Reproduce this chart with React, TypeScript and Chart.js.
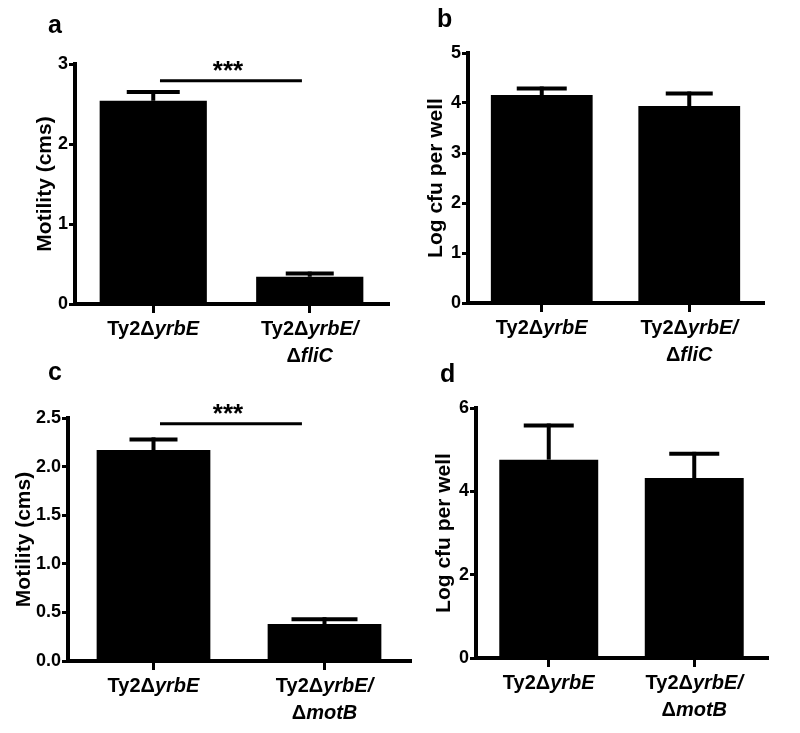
import React, { useEffect, useRef } from 'react';
import { Chart, registerables } from 'chart.js';

Chart.register(...registerables);

const FONT = '"Liberation Sans", Arial, Helvetica, sans-serif';

// Category labels: "*" toggles italic, "|" breaks the line
const categoriesFliC = ['Ty2Δ*yrbE*', 'Ty2Δ*yrbE/*|Δ*fliC*'];
const categoriesMotB = ['Ty2Δ*yrbE*', 'Ty2Δ*yrbE/*|Δ*motB*'];

// Panel a: motility, ΔfliC
const motilityFliC = [2.54, 0.34];
const motilityFliCErr = [0.11, 0.04];
// Panel b: log cfu, ΔfliC
const cfuFliC = [4.16, 3.94];
const cfuFliCErr = [0.13, 0.25];
// Panel c: motility, ΔmotB
const motilityMotB = [2.17, 0.38];
const motilityMotBErr = [0.11, 0.05];
// Panel d: log cfu, ΔmotB
const cfuMotB = [4.76, 4.32];
const cfuMotBErr = [0.82, 0.58];

// Axis ranges / tick steps
const yMaxA = 3, yStepA = 1;
const yMaxB = 5, yStepB = 1;
const yMaxC = 2.5, yStepC = 0.5;
const yMaxD = 6, yStepD = 2;

// Significance levels
const sigLevelA = 2.79;
const sigLevelC = 2.44;
const sigText = '***';

type Sig = { level: number; text: string; from: number; to: number };
type PanelCfg = {
  letter: string; letterX: number; letterY: number;
  left: number; top: number; width: number; height: number;
  area: { left: number; top: number; right: number; bottom: number };
  titleCenter: number; yTitle: string;
  yMax: number; yStep: number; decimals: number;
  categories: string[]; values: number[]; errors: number[];
  barPct: number; capW: number[];
  sig?: Sig;
};

const plain = (s: string) => s.replace(/\*/g, '').replace(/\|/g, ' ');
const parseLines = (s: string) =>
  s.split('|').map((line) => {
    const parts: { t: string; i: boolean }[] = [];
    line.split('*').forEach((t, k) => { if (t) parts.push({ t, i: k % 2 === 1 }); });
    return parts;
  });

const panels: PanelCfg[] = [
  {
    letter: 'a', letterX: 48, letterY: 33,
    left: 0, top: 0, width: 400, height: 378,
    area: { left: 75, top: 64, right: 388, bottom: 304 },
    titleCenter: 45, yTitle: 'Motility (cms)',
    yMax: yMaxA, yStep: yStepA, decimals: 0,
    categories: categoriesFliC, values: motilityFliC, errors: motilityFliCErr,
    barPct: 0.685, capW: [53, 48],
    sig: { level: sigLevelA, text: sigText, from: 0.043, to: 0.95 },
  },
  {
    letter: 'b', letterX: 37, letterY: 27,
    left: 400, top: 0, width: 400, height: 378,
    area: { left: 68, top: 53, right: 363, bottom: 303 },
    titleCenter: 36, yTitle: 'Log cfu per well',
    yMax: yMaxB, yStep: yStepB, decimals: 0,
    categories: categoriesFliC, values: cfuFliC, errors: cfuFliCErr,
    barPct: 0.69, capW: [50, 47],
  },
  {
    letter: 'c', letterX: 48, letterY: 20,
    left: 0, top: 360, width: 420, height: 373,
    area: { left: 68, top: 58, right: 410, bottom: 301 },
    titleCenter: 24, yTitle: 'Motility (cms)',
    yMax: yMaxC, yStep: yStepC, decimals: 1,
    categories: categoriesMotB, values: motilityMotB, errors: motilityMotBErr,
    barPct: 0.665, capW: [48, 66],
    sig: { level: sigLevelC, text: sigText, from: 0.038, to: 0.868 },
  },
  {
    letter: 'd', letterX: 40, letterY: 22,
    left: 400, top: 360, width: 400, height: 373,
    area: { left: 76, top: 48, right: 367, bottom: 298 },
    titleCenter: 44, yTitle: 'Log cfu per well',
    yMax: yMaxD, yStep: yStepD, decimals: 0,
    categories: categoriesMotB, values: cfuMotB, errors: cfuMotBErr,
    barPct: 0.68, capW: [50, 50],
  },
];

function Panel({ cfg }: { cfg: PanelCfg }) {
  const ref = useRef<HTMLCanvasElement | null>(null);
  useEffect(() => {
    const canvas = ref.current;
    if (!canvas) return;
    const titleSize = 21;
    const titleLH = titleSize * 1.2;
    const overlay = {
      id: 'overlay',
      afterDatasetsDraw(chart: any) {
        const ctx = chart.ctx as CanvasRenderingContext2D;
        const y = chart.scales.y;
        const x = chart.scales.x;
        const meta = chart.getDatasetMeta(0);
        ctx.save();
        ctx.strokeStyle = '#000';
        ctx.lineCap = 'butt';
        meta.data.forEach((bar: any, i: number) => {
          const top = y.getPixelForValue(cfg.values[i]);
          const e = y.getPixelForValue(cfg.values[i] + cfg.errors[i]);
          ctx.lineWidth = 4;
          ctx.beginPath();
          ctx.moveTo(bar.x, top);
          ctx.lineTo(bar.x, e - 2);
          ctx.stroke();
          ctx.beginPath();
          ctx.moveTo(bar.x - cfg.capW[i] / 2, e);
          ctx.lineTo(bar.x + cfg.capW[i] / 2, e);
          ctx.stroke();
        });
        if (cfg.sig) {
          const sy = y.getPixelForValue(cfg.sig.level);
          const x1 = x.getPixelForValue(cfg.sig.from);
          const x2 = x.getPixelForValue(cfg.sig.to);
          ctx.lineWidth = 3;
          ctx.beginPath();
          ctx.moveTo(x1, sy);
          ctx.lineTo(x2, sy);
          ctx.stroke();
          ctx.fillStyle = '#000';
          ctx.font = `bold 26px ${FONT}`;
          ctx.textAlign = 'center';
          ctx.textBaseline = 'alphabetic';
          ctx.fillText(cfg.sig.text, (x1 + x2) / 2 - 3, sy - 2);
        }
        ctx.restore();
      },
      afterDraw(chart: any) {
        const ctx = chart.ctx as CanvasRenderingContext2D;
        const x = chart.scales.x;
        const bottom = chart.chartArea.bottom;
        ctx.save();
        ctx.fillStyle = '#000';
        ctx.textBaseline = 'alphabetic';
        ctx.textAlign = 'left';
        const nf = `bold 20px ${FONT}`;
        const itf = `italic bold 20px ${FONT}`;
        cfg.categories.forEach((cat, i) => {
          const cx = x.getPixelForTick(i);
          parseLines(cat).forEach((parts, j) => {
            let total = 0;
            const widths = parts.map((p) => {
              ctx.font = p.i ? itf : nf;
              const w = ctx.measureText(p.t).width;
              total += w;
              return w;
            });
            let px = cx - total / 2;
            const by = bottom + 31 + j * 27;
            parts.forEach((p, k) => {
              ctx.font = p.i ? itf : nf;
              ctx.fillText(p.t, px, by);
              px += widths[k];
            });
          });
        });
        ctx.font = `bold 25px ${FONT}`;
        ctx.fillText(cfg.letter, cfg.letterX, cfg.letterY);
        ctx.restore();
      },
    };
    const chart = new Chart(canvas, {
      type: 'bar',
      data: {
        labels: cfg.categories.map(plain),
        datasets: [
          {
            data: cfg.values,
            backgroundColor: '#000',
            borderWidth: 0,
            categoryPercentage: 1,
            barPercentage: cfg.barPct,
          },
        ],
      },
      options: {
        responsive: false,
        animation: false,
        devicePixelRatio: 1,
        layout: {
          padding: { left: 0, top: cfg.area.top, right: cfg.width - cfg.area.right, bottom: 0 },
        },
        plugins: {
          legend: { display: false },
          tooltip: { enabled: false },
          title: { display: false },
        },
        scales: {
          x: {
            offset: true,
            grid: {
              display: true,
              offset: false,
              drawOnChartArea: false,
              drawTicks: true,
              tickLength: 9,
              color: '#000',
              lineWidth: 3,
            },
            border: { display: true, color: '#000', width: 4 },
            ticks: { display: false },
            afterFit: (s: any) => { s.height = cfg.height - cfg.area.bottom; },
          },
          y: {
            min: 0,
            max: cfg.yMax,
            ticks: {
              stepSize: cfg.yStep,
              color: '#000',
              padding: 1,
              font: { family: FONT, size: 18, weight: 'bold' },
              callback: (v: any) => Number(v).toFixed(cfg.decimals),
            },
            grid: {
              display: true,
              drawOnChartArea: false,
              drawTicks: true,
              tickLength: 6,
              color: '#000',
              lineWidth: 3,
            },
            border: { display: true, color: '#000', width: 4 },
            title: {
              display: true,
              text: cfg.yTitle,
              color: '#000',
              font: { family: FONT, size: titleSize, weight: 'bold', lineHeight: 1.2 },
              padding: { top: cfg.titleCenter - titleLH / 2, bottom: 0 },
            },
            afterFit: (s: any) => { s.width = cfg.area.left; },
          },
        },
      } as any,
      plugins: [overlay],
    });
    return () => chart.destroy();
  }, [cfg]);
  return (
    <canvas
      ref={ref}
      width={cfg.width}
      height={cfg.height}
      style={{ position: 'absolute', left: cfg.left, top: cfg.top, width: cfg.width, height: cfg.height }}
    />
  );
}

export default function App() {
  return (
    <div style={{ position: 'absolute', left: 0, top: 0, width: 800, height: 733, background: '#fff', overflow: 'hidden' }}>
      {panels.map((p) => (
        <Panel key={p.letter} cfg={p} />
      ))}
    </div>
  );
}
